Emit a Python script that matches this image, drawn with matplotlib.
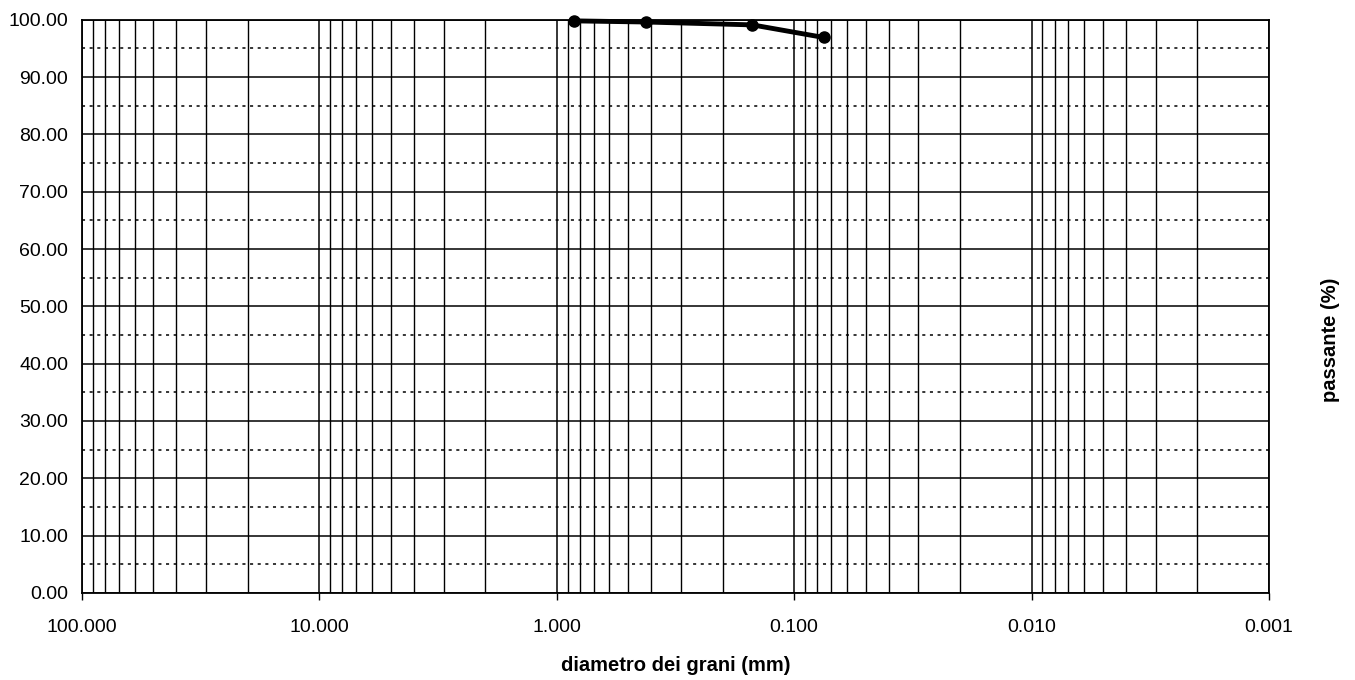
import matplotlib.pyplot as plt
from matplotlib.ticker import FixedLocator, LogLocator, FuncFormatter, NullFormatter

plt.rcParams['font.family'] = ['Liberation Sans', 'DejaVu Sans']

# dati della curva granulometrica
diametri = [0.85, 0.42, 0.15, 0.075]
passante = [99.8, 99.6, 99.1, 96.9]

x_ticks = [100, 10, 1, 0.1, 0.01, 0.001]
y_major = [0, 10, 20, 30, 40, 50, 60, 70, 80, 90, 100]
y_minor = [5, 15, 25, 35, 45, 55, 65, 75, 85, 95]

fig = plt.figure(figsize=(13.55, 6.8), dpi=100)
ax = fig.add_axes([0.0605, 0.128, 0.876, 0.843])

ax.set_xscale('log')
ax.set_xlim(100, 0.001)
ax.set_ylim(0, 100)

ax.xaxis.set_major_locator(FixedLocator(x_ticks))
ax.xaxis.set_minor_locator(LogLocator(base=10, subs=range(2, 10), numticks=20))
ax.xaxis.set_major_formatter(FuncFormatter(lambda v, p: f"{v:.3f}"))
ax.xaxis.set_minor_formatter(NullFormatter())
ax.yaxis.set_major_locator(FixedLocator(y_major))
ax.yaxis.set_minor_locator(FixedLocator(y_minor))
ax.yaxis.set_major_formatter(FuncFormatter(lambda v, p: f"{v:.2f}"))

ax.grid(which='major', axis='both', color='black', linewidth=1.1)
ax.grid(which='minor', axis='x', color='black', linewidth=1.0)
ax.grid(which='minor', axis='y', color='black', linewidth=1.1, linestyle=(0, (2, 3)))

for s in ax.spines.values():
    s.set_color('black')
    s.set_linewidth(1.3)

ax.tick_params(axis='x', which='major', length=5, width=1, pad=14, labelsize=14)
ax.tick_params(axis='x', which='minor', length=0)
ax.tick_params(axis='y', which='major', length=0, pad=10, labelsize=14)
ax.tick_params(axis='y', which='minor', length=0)

ax.plot(diametri, passante, color='black', linewidth=3.5, marker='o',
        markersize=8, clip_on=False, zorder=5)

ax.set_xlabel('diametro dei grani (mm)', fontsize=14.5, fontweight='bold', labelpad=14)
fig.text(0.982, 0.5, 'passante (%)', rotation=90, fontsize=14.5, fontweight='bold',
         ha='center', va='center')

fig.savefig('out.png', dpi=100)
